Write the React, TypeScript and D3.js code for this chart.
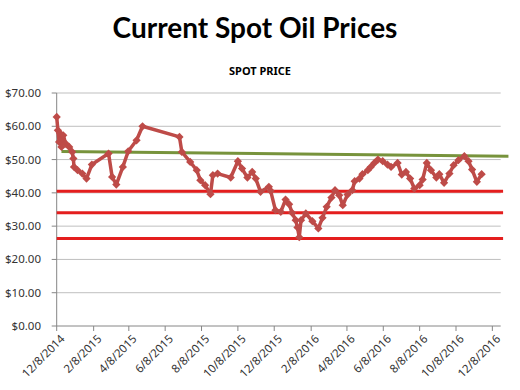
import React, { useMemo } from 'react';
import * as d3 from 'd3';

// Spot price readings
const spotDates = [
  '2014-12-08', '2014-12-10', '2014-12-12', '2014-12-14', '2014-12-16', '2014-12-17',
  '2014-12-19', '2014-12-23', '2014-12-29', '2015-01-03', '2015-01-05', '2015-01-06',
  '2015-01-12', '2015-01-20', '2015-01-27', '2015-02-05', '2015-03-05', '2015-03-11',
  '2015-03-18', '2015-03-29', '2015-04-07', '2015-04-21', '2015-05-01', '2015-07-02',
  '2015-07-06', '2015-07-20', '2015-07-31', '2015-08-06', '2015-08-14', '2015-08-23',
  '2015-08-27', '2015-09-04', '2015-09-26', '2015-10-08', '2015-10-15', '2015-10-24',
  '2015-11-01', '2015-11-07', '2015-11-15', '2015-11-29', '2015-12-02', '2015-12-10',
  '2015-12-19', '2015-12-27', '2016-01-02', '2016-01-07', '2016-01-13', '2016-01-16',
  '2016-01-19', '2016-01-22', '2016-01-30', '2016-02-10', '2016-02-20', '2016-02-27',
  '2016-03-05', '2016-03-13', '2016-03-19', '2016-03-26', '2016-04-01', '2016-04-09',
  '2016-04-17', '2016-04-21', '2016-04-29', '2016-05-04', '2016-05-13', '2016-05-18',
  '2016-05-24', '2016-05-30', '2016-06-07', '2016-06-15', '2016-06-21', '2016-07-02',
  '2016-07-09', '2016-07-16', '2016-07-23', '2016-07-30', '2016-08-08', '2016-08-13',
  '2016-08-20', '2016-08-27', '2016-09-05', '2016-09-10', '2016-09-18', '2016-09-27',
  '2016-10-04', '2016-10-12', '2016-10-22', '2016-10-29', '2016-11-04', '2016-11-12',
  '2016-11-20',
];
const spotPrices = [
  62.8, 58.8, 55.3, 57.8, 53.8, 56.3,
  57.3, 54.8, 53.8, 52.3, 50.3, 47.8,
  46.8, 45.8, 44.3, 48.5, 51.8, 44.8,
  42.5, 47.8, 52.5, 55.8, 60.0, 56.8,
  52.3, 49.3, 46.8, 43.8, 42.3, 39.6,
  45.3, 45.8, 44.6, 49.5, 47.3, 44.6,
  46.3, 44.3, 40.3, 41.8, 40.6, 34.8,
  34.3, 38.0, 36.6, 34.0, 31.8, 29.6,
  26.7, 31.8, 33.8, 31.5, 29.3, 32.5,
  35.8, 38.6, 40.8, 39.3, 36.3, 39.5,
  40.8, 43.5, 44.3, 45.6, 46.8, 47.8,
  49.0, 50.0, 49.5, 48.5, 47.8, 49.0,
  45.5, 46.3, 44.3, 41.3, 42.3, 44.0,
  49.0, 46.8, 44.6, 45.6, 43.0, 45.8,
  48.3, 49.8, 51.0, 49.5, 47.0, 43.3,
  45.6,
];

// Horizontal support levels (red) and the trend line (green)
const supportLevels = [40.5, 34.0, 26.3];
const supportSpan = ['2014-12-08', '2016-12-26'];
const trendDates = ['2014-12-16', '2017-01-04'];
const trendValues = [52.4, 51.0];

// Axis ticks
const yTicks = [0, 10, 20, 30, 40, 50, 60, 70];
const xTickLabels = [
  '12/8/2014', '2/8/2015', '4/8/2015', '6/8/2015', '8/8/2015', '10/8/2015', '12/8/2015',
  '2/8/2016', '4/8/2016', '6/8/2016', '8/8/2016', '10/8/2016', '12/8/2016',
];
const axisStart = '2014-12-08';
const axisEnd = '2016-12-22';

const parseIso = d3.timeParse('%Y-%m-%d');
const parseUs = d3.timeParse('%m/%d/%Y');

const WIDTH = 520;
const HEIGHT = 390;
const FONT = '"Noto Sans", "Open Sans", sans-serif';

const App: React.FC = () => {
  const plot = { left: 56.7, right: 500.7, top: 93, bottom: 326 };

  const xScale = useMemo(
    () => d3.scaleTime()
      .domain([parseIso(axisStart)!, parseIso(axisEnd)!])
      .range([plot.left, plot.right]),
    []
  );
  const yScale = useMemo(
    () => d3.scaleLinear().domain([0, 70]).range([plot.bottom, plot.top]),
    []
  );

  const points = spotDates.map((d, i) => ({ date: parseIso(d)!, price: spotPrices[i] }));

  const line = d3.line<{ date: Date; price: number }>()
    .x(d => xScale(d.date))
    .y(d => yScale(d.price));

  const diamond = d3.symbol(d3.symbolSquare, 34)() || '';
  const fmt = d3.format('$.2f');
  const seriesColor = '#BE4B48';

  const sx0 = xScale(parseIso(supportSpan[0])!);
  const sx1 = xScale(parseIso(supportSpan[1])!);

  return (
    <div style={{ position: 'absolute', left: 0, top: 0, width: WIDTH, height: HEIGHT, background: '#fff' }}>
      <svg width={WIDTH} height={HEIGHT} viewBox={`0 0 ${WIDTH} ${HEIGHT}`} style={{ display: 'block' }}>
        <rect width={WIDTH} height={HEIGHT} fill="#fff" />

        {/* Titles */}
        <text x={255} y={38} textAnchor="middle" fontFamily='Lato, "Open Sans", sans-serif'
          fontWeight="bold" fontSize={28} fill="#000">Current Spot Oil Prices</text>
        <text x={260} y={75} textAnchor="middle" fontFamily={FONT}
          fontWeight="bold" fontSize={11} fill="#000">SPOT PRICE</text>

        {/* Gridlines + y axis labels */}
        {yTicks.map(t => (
          <g key={t}>
            {t > 0 && (
              <line x1={plot.left} x2={plot.right} y1={yScale(t)} y2={yScale(t)}
                stroke="#BFBFBF" strokeWidth={1} />
            )}
            <line x1={plot.left - 5} x2={plot.left} y1={yScale(t)} y2={yScale(t)}
              stroke="#868686" strokeWidth={1} />
            <text x={41} y={yScale(t)} dy="0.35em" textAnchor="end" fontFamily={FONT}
              fontSize={11.5} fill="#333">{fmt(t)}</text>
          </g>
        ))}

        {/* Axes lines */}
        <line x1={plot.left} x2={plot.left} y1={plot.top} y2={plot.bottom} stroke="#868686" />
        <line x1={plot.left} x2={plot.right} y1={plot.bottom} y2={plot.bottom} stroke="#868686" />

        {/* X axis ticks and rotated labels */}
        {xTickLabels.map(lbl => {
          const x = xScale(parseUs(lbl)!);
          return (
            <g key={lbl}>
              <line x1={x} x2={x} y1={plot.bottom} y2={plot.bottom + 5} stroke="#868686" />
              <text transform={`translate(${x + 3},${plot.bottom + 8}) rotate(-45)`}
                textAnchor="end" dy="0.7em" fontFamily={FONT} fontSize={11.5} fill="#333">{lbl}</text>
            </g>
          );
        })}

        {/* Support levels */}
        {supportLevels.map(v => (
          <line key={v} x1={sx0} x2={sx1} y1={yScale(v)} y2={yScale(v)}
            stroke="#E41E1E" strokeWidth={3} />
        ))}

        {/* Trend line */}
        <line
          x1={xScale(parseIso(trendDates[0])!)} y1={yScale(trendValues[0])}
          x2={xScale(parseIso(trendDates[1])!)} y2={yScale(trendValues[1])}
          stroke="#77933C" strokeWidth={3}
        />

        {/* Spot price series */}
        <path d={line(points) || ''} fill="none" stroke={seriesColor} strokeWidth={3.5}
          strokeLinejoin="round" />
        {points.map((p, i) => (
          <path key={i} d={diamond}
            transform={`translate(${xScale(p.date)},${yScale(p.price)}) rotate(45)`}
            fill={seriesColor} />
        ))}
      </svg>
    </div>
  );
};

export default App;
